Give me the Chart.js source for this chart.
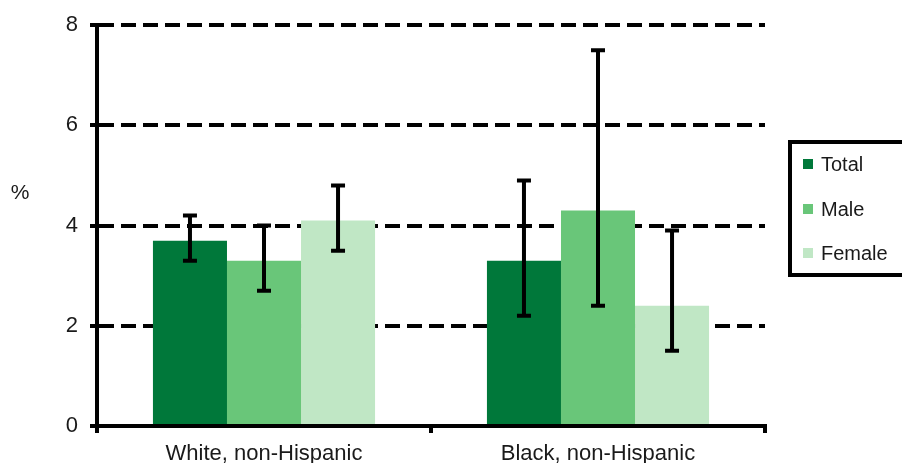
<!DOCTYPE html>
<html>
<head>
<meta charset="utf-8">
<script src="https://cdn.jsdelivr.net/npm/chart.js@4/dist/chart.umd.min.js"></script>
<style>
html,body{margin:0;padding:0;background:#fff;}
#wrap{width:902px;height:463px;position:relative;}
</style>
</head>
<body>
<div id="wrap"><canvas id="c" width="902" height="463"></canvas></div>
<script>
const categories = ["White, non-Hispanic", "Black, non-Hispanic"];
const seriesNames = ["Total", "Male", "Female"];
const totalValues = [3.7, 3.3];
const maleValues = [3.3, 4.3];
const femaleValues = [4.1, 2.4];
const totalLow = [3.3, 2.2];
const totalHigh = [4.2, 4.9];
const maleLow = [2.7, 2.4];
const maleHigh = [4.0, 7.5];
const femaleLow = [3.5, 1.5];
const femaleHigh = [4.8, 3.9];
const yTicks = [0, 2, 4, 6, 8];
const colors = ["#00783A", "#69C679", "#C0E7C5"];

const errLow = [totalLow, maleLow, femaleLow];
const errHigh = [totalHigh, maleHigh, femaleHigh];

const FONT = "'Liberation Sans', Arial, sans-serif";
const TXT = '#1a1a1a';

const errorBarPlugin = {
  id: 'errorBars',
  afterDatasetsDraw(chart) {
    const ctx = chart.ctx;
    const y = chart.scales.y;
    ctx.save();
    ctx.strokeStyle = '#000';
    ctx.lineWidth = 4;
    chart.data.datasets.forEach((ds, di) => {
      const meta = chart.getDatasetMeta(di);
      meta.data.forEach((bar, i) => {
        const x = bar.x;
        const yt = y.getPixelForValue(errHigh[di][i]);
        const yb = y.getPixelForValue(errLow[di][i]);
        ctx.beginPath();
        ctx.moveTo(x, yt); ctx.lineTo(x, yb);
        ctx.moveTo(x - 7, yt); ctx.lineTo(x + 7, yt);
        ctx.moveTo(x - 7, yb); ctx.lineTo(x + 7, yb);
        ctx.stroke();
      });
    });
    ctx.restore();
  }
};

const legendPlugin = {
  id: 'boxLegend',
  afterDraw(chart) {
    const ctx = chart.ctx;
    ctx.save();
    ctx.lineWidth = 4;
    ctx.strokeStyle = '#000';
    ctx.strokeRect(790, 142, 125, 133);
    ctx.font = '20px ' + FONT;
    ctx.textBaseline = 'middle';
    const ys = [164, 209, 253];
    chart.data.datasets.forEach((ds, i) => {
      ctx.fillStyle = ds.backgroundColor;
      ctx.fillRect(803, ys[i] - 5, 10, 10);
      ctx.fillStyle = TXT;
      ctx.fillText(ds.label, 821, ys[i] + 1);
    });
    // "%" axis label
    ctx.font = '21px ' + FONT;
    ctx.textAlign = 'center';
    ctx.fillText('%', 20, 193);
    ctx.restore();
  }
};

new Chart(document.getElementById('c'), {
  type: 'bar',
  data: {
    labels: categories,
    datasets: [
      { label: seriesNames[0], data: totalValues, backgroundColor: colors[0] },
      { label: seriesNames[1], data: maleValues, backgroundColor: colors[1] },
      { label: seriesNames[2], data: femaleValues, backgroundColor: colors[2] }
    ]
  },
  options: {
    responsive: false,
    animation: false,
    devicePixelRatio: 1,
    layout: { padding: { left: 0, right: 137, top: 23, bottom: 0 } },
    datasets: { bar: { categoryPercentage: 0.665, barPercentage: 1.0 } },
    plugins: { legend: { display: false }, tooltip: { enabled: false } },
    scales: {
      x: {
        offset: true,
        grid: { display: true, drawOnChartArea: false, drawTicks: true, tickLength: 7, color: '#000', lineWidth: 4, offset: true },
        border: { display: true, color: '#000', width: 4 },
        ticks: { color: TXT, font: { family: FONT, size: 22 }, padding: 8, maxRotation: 0 },
        afterFit(s) { s.height = 37; }
      },
      y: {
        min: 0, max: 8,
        afterBuildTicks(s) { s.ticks = yTicks.map(v => ({ value: v })); },
        grid: { color: '#000', lineWidth: 4, drawTicks: true, tickLength: 7, tickColor: '#000', tickWidth: 4 },
        border: { display: true, color: '#000', width: 4, dash: [15, 7] },
        ticks: { color: TXT, font: { family: FONT, size: 22 }, padding: 12 },
        afterFit(s) { s.width = 97; }
      }
    }
  },
  plugins: [errorBarPlugin, legendPlugin]
});
</script>
</body>
</html>
